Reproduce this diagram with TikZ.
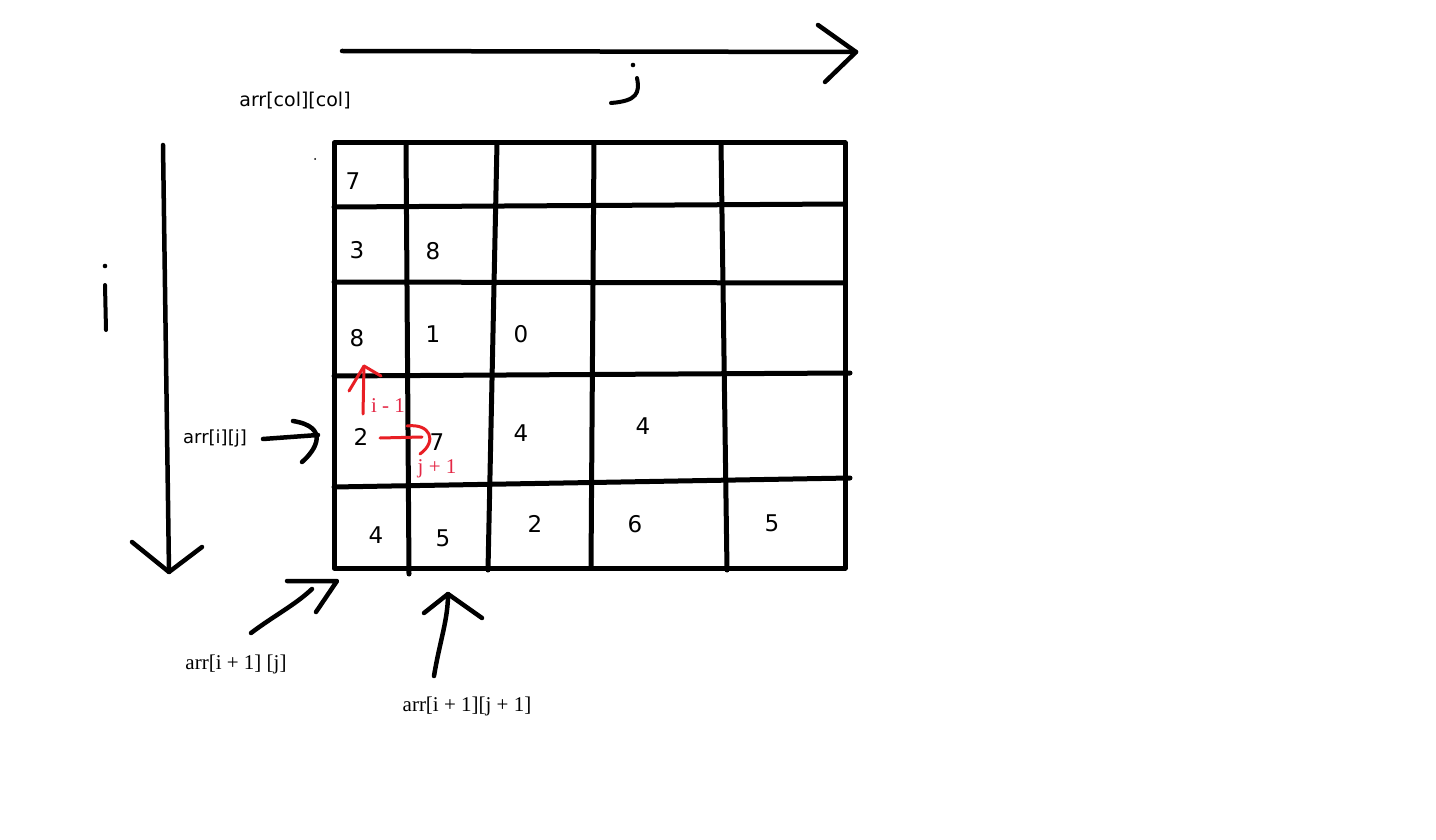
\documentclass[tikz,border=0pt]{standalone}
\usepackage{fontspec}
\setmainfont{DejaVu Sans}
\newfontfamily\seriffam{Liberation Serif}
\definecolor{penred}{RGB}{232,30,36}
\definecolor{textred}{RGB}{228,40,70}
\begin{document}
\begin{tikzpicture}[x=1pt,y=-1pt,line cap=round,line join=round,
  gridline/.style={line width=5pt},
  pen/.style={line width=4.5pt},
  thinpen/.style={line width=4pt},
  redpen/.style={line width=3pt,draw=penred},
  num/.style={inner sep=0pt,font=\fontsize{23}{23}\selectfont},
  sanslabel/.style={inner sep=0pt,anchor=base,font=\fontsize{19}{19}\selectfont},
  seriflabel/.style={inner sep=0pt,anchor=base,font=\seriffam\fontsize{21}{21}\selectfont},
  redlabel/.style={inner sep=0pt,anchor=base,text=textred,font=\seriffam\fontsize{21}{21}\selectfont}]
\fill[white] (0,0) rectangle (1436,840);
\useasboundingbox (0,0) rectangle (1436,840);

% grid
\draw[gridline] (334,143) -- (845,143) -- (845,568) -- (334,568) -- cycle;
\draw[gridline] (406,143) -- (409,574);
\draw[gridline] (497,143) -- (488,570);
\draw[gridline] (594,143) -- (591,568);
\draw[gridline] (721,143) -- (727,570);
\draw[gridline] (334,207) -- (845,204);
\draw[gridline] (334,282) -- (845,283);
\draw[gridline] (334,376) -- (850,373);
\draw[gridline] (334,487) -- (850,478);
\fill (315,159) circle (1);

% numbers
\node[num] (n00) at (353,181) {7};
\node[num] (n10) at (357,250) {3};
\node[num] (n11) at (433,251) {8};
\node[num] (n20) at (357,338) {8};
\node[num] (n21) at (433,334) {1};
\node[num] (n22) at (521,334) {0};
\node[num] (n30) at (361,437) {2};
\node[num] (n31) at (437,442) {7};
\node[num] (n32) at (521,433) {4};
\node[num] (n33) at (643,426) {4};
\node[num] (n40) at (376,535) {4};
\node[num] (n41) at (443,538) {5};
\node[num] (n42) at (535,524) {2};
\node[num] (n43) at (635,524) {6};
\node[num] (n44) at (772,523) {5};

% labels
\node[sanslabel] (lcol) at (295,107) {arr[col][col]};
\node[sanslabel,font=\fontsize{18}{18}\selectfont] (lij) at (215,443) {arr[i][j]};
\node[seriflabel] (lb1) at (236,669) {arr[i + 1] [j]};
\node[seriflabel] (lb2) at (467,711) {arr[i + 1][j + 1]};
\node[redlabel] (lim) at (388,412) {i - 1};
\node[redlabel] (ljp) at (437,473) {j + 1};

% top arrow (j axis)
\coordinate (topS) at (342,51);
\coordinate (topT) at (856,52);
\draw[pen] (topS) -- (topT);
\draw[pen] (818,25) -- (topT) -- (825,82);
\fill (633,65) circle (2.3);
\draw[thinpen] (637,78) .. controls (640,93) and (637,101) .. (611,103);

% left arrow (i axis)
\coordinate (leftS) at (163,145);
\coordinate (leftT) at (169,572);
\draw[pen] (leftS) -- (leftT);
\draw[pen] (132,542) -- (leftT) -- (202,547);
\fill (105,266) circle (2.3);
\draw[thinpen] (105,285) -- (106,330);

% arr[i][j] arrow
\coordinate (aijS) at (263,439);
\coordinate (aijT) at (318,435);
\draw[pen] (aijS) -- (aijT);
\draw[pen] (293,421) .. controls (330,427) and (316,450) .. (302,462);

% red arrows
\coordinate (upS) at (363,414);
\coordinate (upT) at (364,366);
\draw[redpen] (upS) -- (upT);
\draw[redpen] (349,391) -- (upT) -- (381,376);
\coordinate (rtS) at (380,438);
\coordinate (rtT) at (422,437);
\draw[redpen] (rtS) -- (rtT);
\draw[redpen] (407,426) .. controls (430,423) and (438,441) .. (420,454);

% bottom-left arrow
\coordinate (blS) at (251,633);
\coordinate (blT) at (337,581);
\draw[pen] (blS) .. controls (275,615) and (295,605) .. (312,589);
\draw[pen] (287,581) -- (blT) -- (316,612);

% bottom-middle arrow
\coordinate (bmS) at (434,676);
\coordinate (bmT) at (448,594);
\draw[pen] (bmS) .. controls (440,640) and (448,620) .. (bmT);
\draw[pen] (424,613) -- (bmT) -- (482,618);
\end{tikzpicture}
\end{document}
